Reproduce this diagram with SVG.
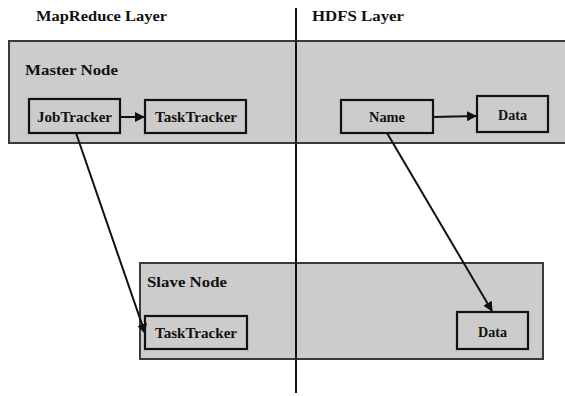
<svg xmlns="http://www.w3.org/2000/svg" width="565" height="396" viewBox="0 0 565 396">
<defs>
<style>
.layer{fill:#cccccc;stroke:#3a3a3a;stroke-width:2}
.box{fill:#cccccc;stroke:#111;stroke-width:2.2}
.t{font-family:"Liberation Serif","Times New Roman",serif;font-weight:bold;fill:#111}
.h{font-size:15px}
.n{font-size:14px}
.edge{stroke:#111;stroke-width:2;fill:none;marker-end:url(#ah)}
</style>
<marker id="ah" viewBox="0 0 10 10" refX="9" refY="5" markerWidth="5" markerHeight="5" orient="auto" markerUnits="strokeWidth">
<path d="M0,0 L10,5 L0,10 z" fill="#111"/>
</marker>
</defs>
<rect width="565" height="396" fill="#fff"/>
<text class="t h" x="36" y="21" textLength="131" lengthAdjust="spacingAndGlyphs">MapReduce Layer</text>
<text class="t h" x="312" y="21" textLength="92" lengthAdjust="spacingAndGlyphs">HDFS Layer</text>
<g id="master">
<rect class="layer" x="9" y="41" width="560" height="102"/>
<text class="t h" x="25" y="75" textLength="93" lengthAdjust="spacingAndGlyphs">Master Node</text>
</g>
<g id="slave">
<rect class="layer" x="140" y="263" width="403" height="96"/>
<text class="t h" x="147" y="287" textLength="80" lengthAdjust="spacingAndGlyphs">Slave Node</text>
</g>
<line x1="296" y1="8" x2="296" y2="393" stroke="#111" stroke-width="2"/>
<g id="jobtracker">
<rect class="box" x="29" y="99" width="91" height="34"/>
<text class="t n" x="37" y="122" textLength="75" lengthAdjust="spacingAndGlyphs">JobTracker</text>
</g>
<g id="tasktracker-master">
<rect class="box" x="145" y="100" width="101" height="33"/>
<text class="t n" x="155" y="122" textLength="82" lengthAdjust="spacingAndGlyphs">TaskTracker</text>
</g>
<g id="name">
<rect class="box" x="341" y="100" width="92" height="33"/>
<text class="t n" x="369" y="122" textLength="36" lengthAdjust="spacingAndGlyphs">Name</text>
</g>
<g id="data-master">
<rect class="box" x="477" y="96" width="71" height="36"/>
<text class="t n" x="498" y="120" textLength="29" lengthAdjust="spacingAndGlyphs">Data</text>
</g>
<g id="tasktracker-slave">
<rect class="box" x="145" y="316" width="102" height="33"/>
<text class="t n" x="155" y="338" textLength="82" lengthAdjust="spacingAndGlyphs">TaskTracker</text>
</g>
<g id="data-slave">
<rect class="box" x="457" y="312" width="71" height="37"/>
<text class="t n" x="478" y="337" textLength="29" lengthAdjust="spacingAndGlyphs">Data</text>
</g>
<g id="connectors">
<line class="edge" x1="120" y1="117" x2="144" y2="117"/>
<line class="edge" x1="433" y1="117" x2="476" y2="116"/>
<line class="edge" x1="76" y1="133" x2="145" y2="333"/>
<line class="edge" x1="387" y1="133" x2="492" y2="311"/>
</g>
</svg>
